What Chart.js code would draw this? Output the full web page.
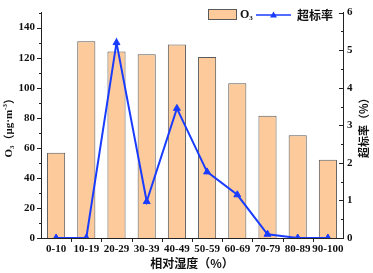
<!DOCTYPE html>
<html>
<head>
<meta charset="utf-8">
<script src="https://cdn.jsdelivr.net/npm/chart.js@4.4.1/dist/chart.umd.min.js"></script>
<style>
    html, body { margin: 0; padding: 0; background: #fff; }
    #wrap { width: 373px; height: 273px; }
</style>
</head>
<body>
<div id="wrap"><canvas id="ozoneChart" width="373" height="273"></canvas></div>
<script>
const humidityBins = ["0-10", "10-19", "20-29", "30-39", "40-49", "50-59", "60-69", "70-79", "80-89", "90-100"];
const ozoneValues = [56.7, 130.9, 124.1, 122.2, 128.7, 120.4, 103, 81.3, 68.4, 52];
const exceedRate = [0, 0, 5.2, 0.97, 3.45, 1.76, 1.15, 0.1, 0, 0];
const ozoneTicks = [0, 20, 40, 60, 80, 100, 120, 140];
const rateTicks = [0, 1, 2, 3, 4, 5, 6];

const barFill = "#fdcb9b";
const barEdge = "#5a5a5a";
const lineBlue = "#1a3cff";
const axisColor = "#222";
const serif = "'Liberation Serif', 'Times New Roman', serif";
const cjk = "'Noto Sans CJK SC', sans-serif";

// tick marks + titles + legend drawn on top of the scales
const extrasPlugin = {
    id: "extras",
    afterDraw(chart) {
        const ctx = chart.ctx;
        const area = chart.chartArea;
        const yL = chart.scales.yL;
        const yR = chart.scales.yR;
        const x = chart.scales.x;

        ctx.save();
        ctx.strokeStyle = axisColor;
        ctx.lineWidth = 1;
        ctx.beginPath();
        // left axis: major + minor ticks pointing out
        for (let v = 0; v <= 150; v += 10) {
            const py = Math.round(yL.getPixelForValue(v)) + 0.5;
            const len = v % 20 === 0 ? 4 : 2;
            ctx.moveTo(area.left, py);
            ctx.lineTo(area.left - len, py);
        }
        // right axis: ticks pointing in
        for (let v = 0; v <= 6; v += 0.5) {
            const py = Math.round(yR.getPixelForValue(v)) + 0.5;
            const len = Number.isInteger(v) ? 4 : 2;
            ctx.moveTo(area.right, py);
            ctx.lineTo(area.right - len, py);
        }
        // x axis ticks at category boundaries
        const step = (area.right - area.left) / humidityBins.length;
        for (let i = 1; i < humidityBins.length; i++) {
            const px = Math.round(area.left + i * step) + 0.5;
            ctx.moveTo(px, area.bottom);
            ctx.lineTo(px, area.bottom + 4);
        }
        ctx.stroke();

        // x title
        ctx.fillStyle = "#111";
        ctx.textAlign = "center";
        ctx.textBaseline = "middle";
        ctx.font = "bold 12px " + cjk;
        ctx.fillText("相对湿度（%）", (area.left + area.right) / 2, 263);

        // right title
        ctx.save();
        ctx.translate(364, (area.top + area.bottom) / 2);
        ctx.rotate(-Math.PI / 2);
        ctx.font = "bold 11px " + cjk;
        ctx.fillText("超标率（%）", 0, 0);
        ctx.restore();

        // left title, rotated, with sub/superscripts
        ctx.save();
        ctx.translate(9, (area.top + area.bottom) / 2);
        ctx.rotate(-Math.PI / 2);
        const parts = [
            { t: "O", f: "bold 11px " + serif, dy: 0 },
            { t: "3", f: "bold 7px " + serif, dy: 3 },
            { t: "（", f: "bold 11px " + cjk, dy: 0 },
            { t: "μg·m", f: "bold 11px " + serif, dy: 0 },
            { t: "-3", f: "bold 7px " + serif, dy: -4 },
            { t: "）", f: "bold 11px " + cjk, dy: 0 },
        ];
        let total = 0;
        parts.forEach((p) => { ctx.font = p.f; p.w = ctx.measureText(p.t).width; total += p.w; });
        let cx = -total / 2;
        ctx.textAlign = "left";
        parts.forEach((p) => { ctx.font = p.f; ctx.fillText(p.t, cx, p.dy); cx += p.w; });
        ctx.restore();

        // legend
        ctx.fillStyle = barFill;
        ctx.fillRect(208, 9.5, 28, 10);
        ctx.strokeStyle = barEdge;
        ctx.strokeRect(208.5, 9.5, 28, 10);
        ctx.fillStyle = "#111";
        ctx.textAlign = "left";
        ctx.font = "bold 12px " + serif;
        ctx.fillText("O", 240, 15);
        const ow = ctx.measureText("O").width;
        ctx.font = "bold 7px " + serif;
        ctx.fillText("3", 240 + ow, 18);

        ctx.strokeStyle = lineBlue;
        ctx.lineWidth = 1.5;
        ctx.beginPath();
        ctx.moveTo(256, 15);
        ctx.lineTo(291, 15);
        ctx.stroke();
        ctx.fillStyle = lineBlue;
        ctx.beginPath();
        ctx.moveTo(273.5, 11.5);
        ctx.lineTo(277, 17.5);
        ctx.lineTo(270, 17.5);
        ctx.closePath();
        ctx.fill();
        ctx.fillStyle = "#111";
        ctx.font = "bold 12px " + cjk;
        ctx.fillText("超标率", 297, 15);
        ctx.restore();
    },
};

new Chart(document.getElementById("ozoneChart"), {
    data: {
        labels: humidityBins,
        datasets: [
            {
                type: "line",
                label: "超标率",
                data: exceedRate,
                yAxisID: "yR",
                borderColor: lineBlue,
                backgroundColor: lineBlue,
                borderWidth: 2,
                pointStyle: "triangle",
                pointRadius: 4,
                pointBorderWidth: 1,
                tension: 0,
                order: 0,
            },
            {
                type: "bar",
                label: "O3",
                data: ozoneValues,
                yAxisID: "yL",
                backgroundColor: barFill,
                borderColor: barEdge,
                borderWidth: 1,
                categoryPercentage: 1,
                barPercentage: 0.6,
                order: 1,
            },
        ],
    },
    options: {
        responsive: false,
        animation: false,
        layout: { padding: { top: 8, left: 0, right: 0, bottom: 0 } },
        plugins: { legend: { display: false }, tooltip: { enabled: false } },
        scales: {
            x: {
                grid: { display: false, drawTicks: false },
                border: { display: true, color: axisColor, width: 1 },
                ticks: { color: "#111", font: { family: serif, weight: "bold", size: 11 }, padding: 5, maxRotation: 0, autoSkip: false },
                afterFit(s) { s.height = 35; },
            },
            yL: {
                position: "left",
                min: 0,
                max: 150,
                grid: { display: false, drawTicks: false },
                border: { display: true, color: axisColor, width: 1 },
                ticks: { color: "#111", font: { family: serif, weight: "bold", size: 11 }, padding: 6 },
                afterBuildTicks(s) { s.ticks = ozoneTicks.map((v) => ({ value: v })); },
                afterFit(s) { s.width = 41; },
            },
            yR: {
                position: "right",
                min: 0,
                max: 6,
                grid: { display: false, drawTicks: false },
                border: { display: true, color: axisColor, width: 1 },
                ticks: { color: "#111", font: { family: serif, weight: "bold", size: 11 }, padding: 4 },
                afterBuildTicks(s) { s.ticks = rateTicks.map((v) => ({ value: v })); },
                afterFit(s) { s.width = 30; },
            },
        },
    },
    plugins: [extrasPlugin],
});
</script>
</body>
</html>
